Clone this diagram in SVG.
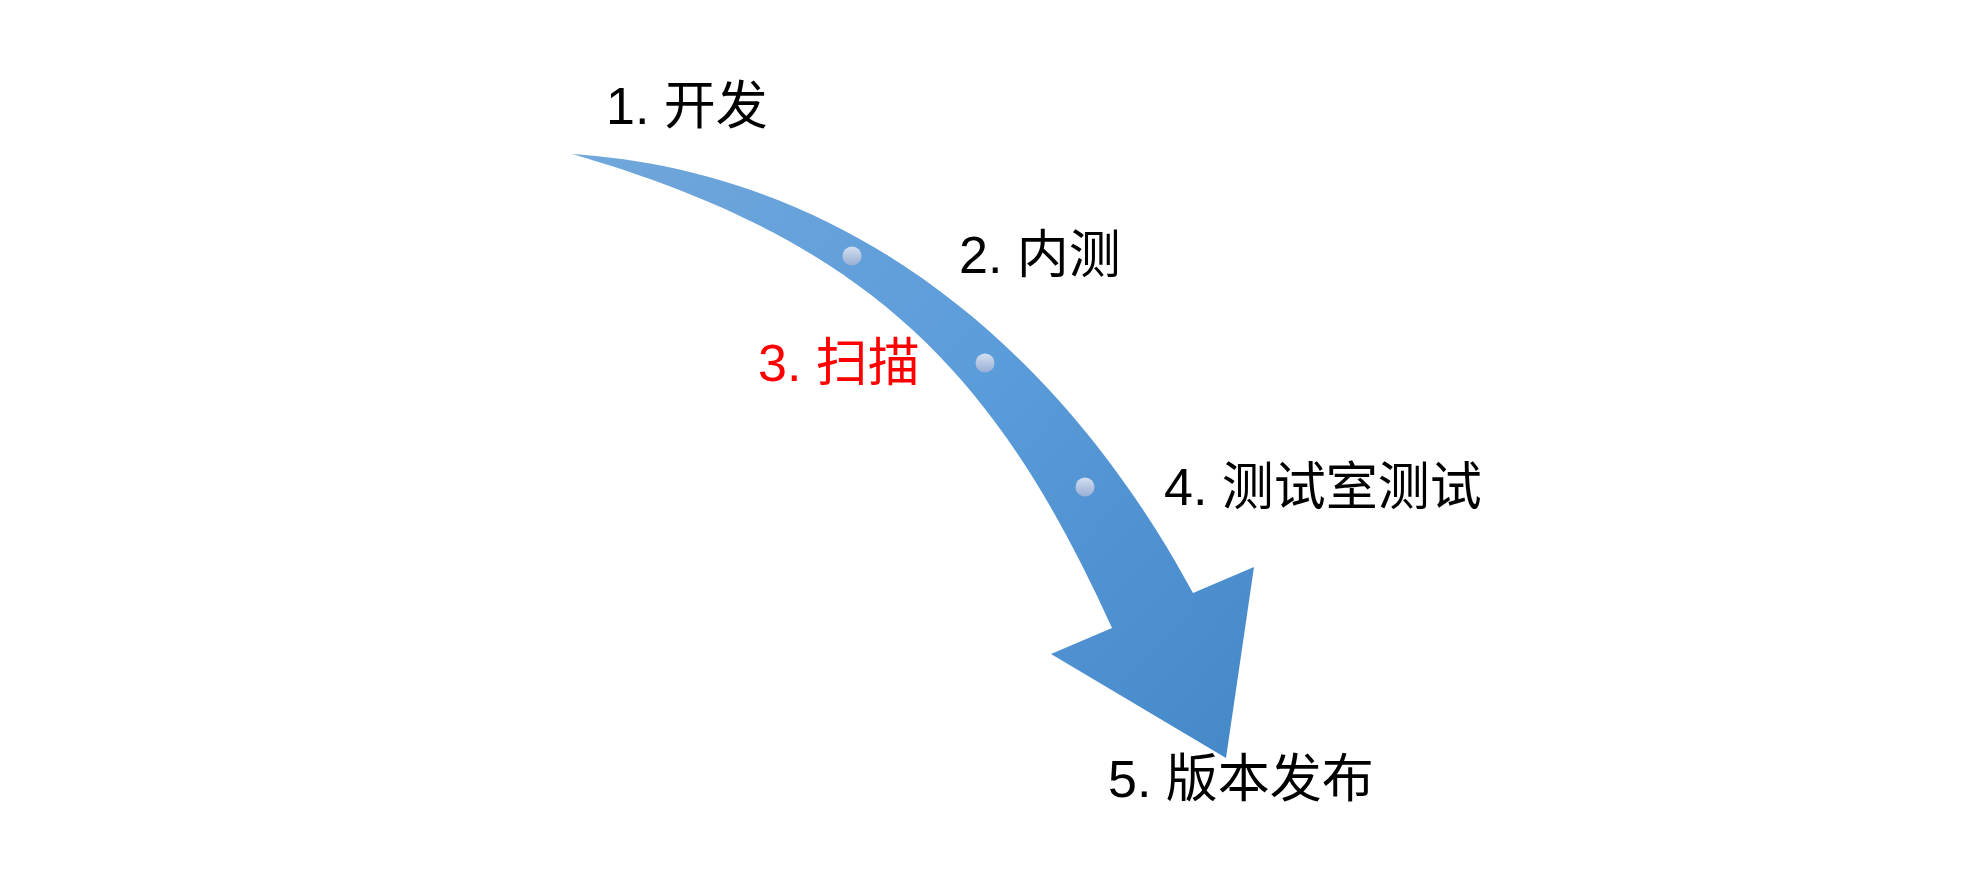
<svg xmlns="http://www.w3.org/2000/svg" width="1985" height="889" viewBox="0 0 1985 889">
  <defs>
    <linearGradient id="arrowGrad" gradientUnits="userSpaceOnUse" x1="572" y1="154" x2="1226" y2="758">
      <stop offset="0" stop-color="#71A7DB"/>
      <stop offset="0.5" stop-color="#5B9CDA"/>
      <stop offset="1" stop-color="#4689C9"/>
    </linearGradient>
    <linearGradient id="dotGrad" x1="0" y1="0" x2="0" y2="1">
      <stop offset="0" stop-color="#D3DFF1"/>
      <stop offset="1" stop-color="#98AED4"/>
    </linearGradient>
    <style>
      .lbl { font-family: "Liberation Sans", "Noto Sans CJK SC", sans-serif; font-size: 52px; fill: #000000; }
      .red { fill: #FF0000; }
      .dot { fill: url(#dotGrad); }
    </style>
  </defs>
  <rect x="0" y="0" width="1985" height="889" fill="#FFFFFF"/>
  <g id="connectors">
    <path id="flow-arrow" d="M 572,154 C 960,180 1145,505 1193,593 L 1254,567 L 1226,758 L 1051,654 L 1112,628 C 997,375 872,241 572,154 Z" fill="url(#arrowGrad)"/>
    <circle class="dot" cx="852" cy="256" r="9.5"/>
    <circle class="dot" cx="985" cy="363" r="9.5"/>
    <circle class="dot" cx="1085" cy="487" r="9.5"/>
  </g>
  <g id="step1"><text class="lbl" x="606" y="124">1. 开发</text></g>
  <g id="step2"><text class="lbl" x="959" y="273">2. 内测</text></g>
  <g id="step3"><text class="lbl red" x="758" y="381">3. 扫描</text></g>
  <g id="step4"><text class="lbl" x="1164" y="505">4. 测试室测试</text></g>
  <g id="step5"><text class="lbl" x="1108" y="797">5. 版本发布</text></g>
</svg>
